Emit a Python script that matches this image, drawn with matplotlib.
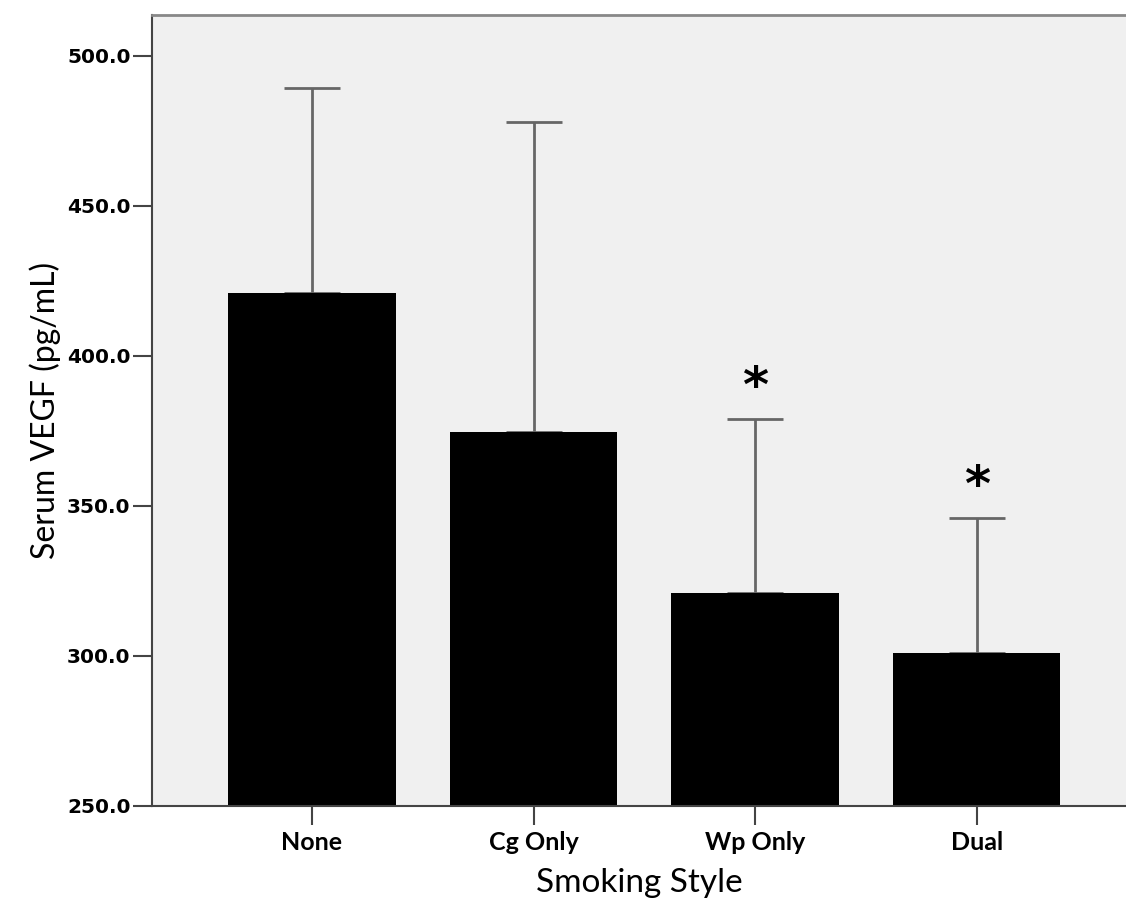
import numpy as np
import matplotlib.pyplot as plt

# valeurs
groupes = ['None', 'Cg Only', 'Wp Only', 'Dual']
moyennes = [420.7, 374.4, 320.9, 300.7]
erreurs_haut = [489.3, 477.9, 378.8, 345.8]
significatif = [False, False, True, True]

yticks = [250, 300, 350, 400, 450, 500]

fig = plt.figure(figsize=(11.26, 9.10), dpi=100)
ax = fig.add_axes([152/1126, 104.5/910, 1 - 152/1126, 790.5/910])
ax.set_facecolor('#f0f0f0')

x = np.arange(len(groupes))
ax.bar(x, moyennes, width=0.756, color='black', zorder=2)

# barres d'erreur (partie haute seulement)
err = np.array(erreurs_haut) - np.array(moyennes)
ax.errorbar(x, moyennes, yerr=[np.zeros(len(err)), err], fmt='none',
            ecolor='#666666', elinewidth=2, capsize=20, capthick=2, zorder=1)

for xi, haut, sig in zip(x, erreurs_haut, significatif):
    if sig:
        ax.text(xi, haut + 2.5, '*', ha='center', va='bottom', fontsize=36,
                fontweight='bold', family='DejaVu Sans')

ax.set_xlim(-0.722, 3.674)
ax.set_ylim(250, 513.5)
ax.set_yticks(yticks)
ax.set_yticklabels([f'{v:.1f}' for v in yticks], fontsize=14.5, fontweight='bold',
                   family='DejaVu Sans')
ax.set_xticks(x)
ax.set_xticklabels(groupes, fontsize=18, fontweight='bold', family='Lato')

ax.tick_params(axis='both', direction='out', length=13.5, width=1.5, color='#444444')
ax.tick_params(axis='y', pad=2)
ax.tick_params(axis='x', pad=5)

for s in ['left', 'bottom']:
    ax.spines[s].set_color('#444444')
    ax.spines[s].set_linewidth(1.5)
ax.spines['top'].set_color('#888888')
ax.spines['top'].set_linewidth(2)
ax.spines['right'].set_visible(False)

ax.set_ylabel('Serum VEGF (pg/mL)', fontsize=23, family='Lato', labelpad=4)
ax.set_xlabel('Smoking Style', fontsize=24, family='Lato', labelpad=10)

fig.savefig('out.png', dpi=100)
